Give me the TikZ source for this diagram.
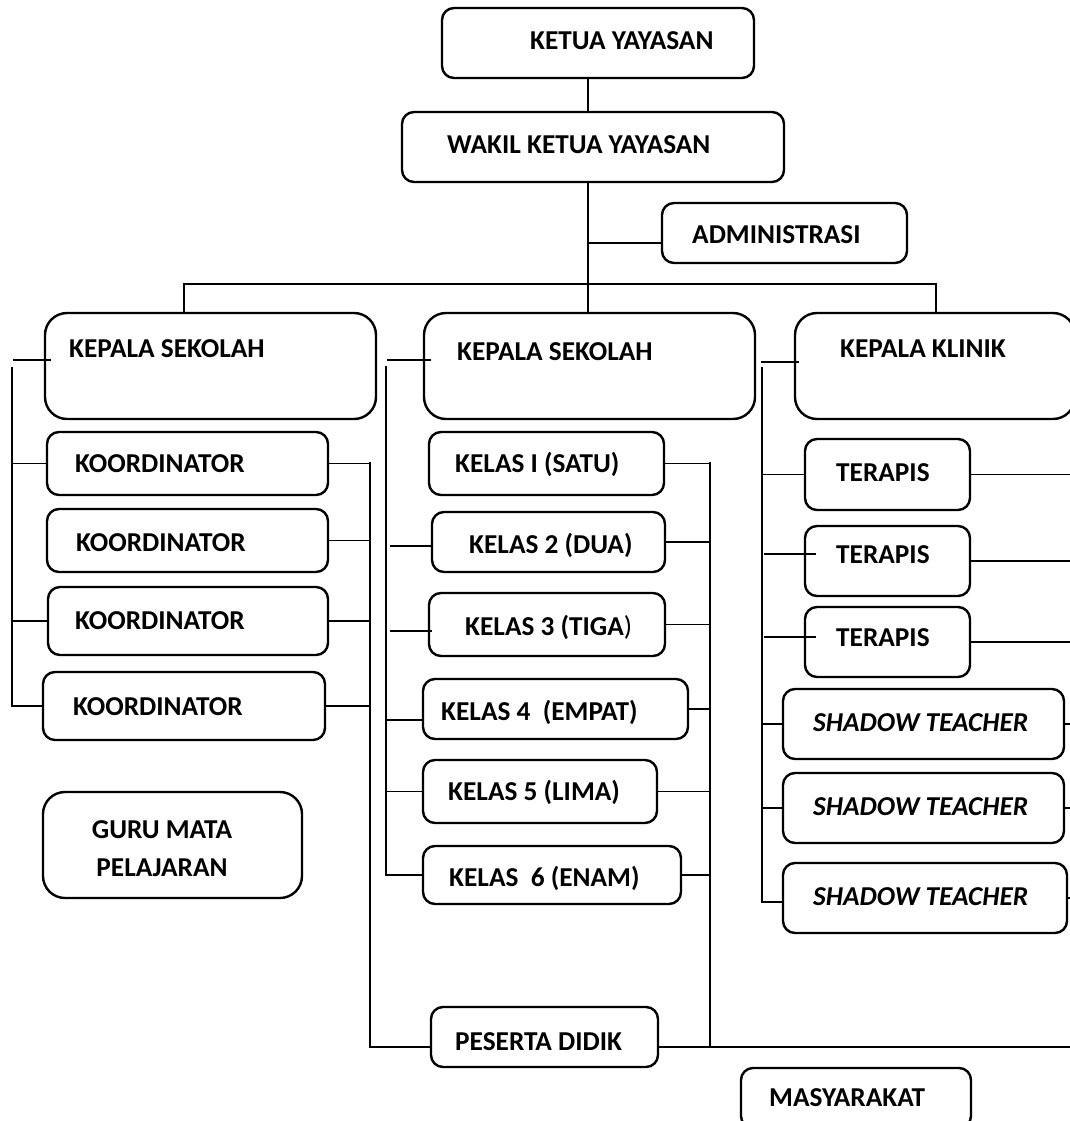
\documentclass[tikz,border=0pt]{standalone}
\usepackage{fontspec}
\setmainfont{Carlito}

\begin{document}
\begin{tikzpicture}[x=1pt,y=-1pt,
    box/.style={draw, line width=2.4pt, rounded corners=12pt, inner sep=0pt},
    bigbox/.style={box, rounded corners=22pt},
    txt/.style={font=\bfseries\fontsize{27.3}{38}\selectfont, inner sep=0pt, anchor=west, text height=17.6pt, text depth=0pt},
    link/.style={line width=1.3pt},
    stub/.style={line width=2.6pt}]
    \useasboundingbox (0,0) rectangle (1070,1121);
    \clip (0,0) rectangle (1070,1121);

    % yayasan
    \node[box, minimum width=312pt, minimum height=70pt] (ketua) at (598,43) {};
    \node[txt] (ketuaT) at (530,41) {KETUA YAYASAN};
    \node[box, minimum width=382pt, minimum height=70pt] (wakil) at (593,147) {};
    \node[txt] (wakilT) at (447,145) {WAKIL KETUA YAYASAN};
    \node[box, minimum width=245pt, minimum height=60pt] (admin) at (784.5,233) {};
    \node[txt] (adminT) at (692,235) {ADMINISTRASI};

    % kepala
    \node[bigbox, minimum width=331pt, minimum height=106pt] (ks1) at (210.5,366) {};
    \node[txt] (ks1T) at (69,349) {KEPALA SEKOLAH};
    \node[bigbox, minimum width=331pt, minimum height=106pt] (ks2) at (589.5,366) {};
    \node[txt] (ks2T) at (457,352) {KEPALA SEKOLAH};
    \node[bigbox, minimum width=280pt, minimum height=106pt] (klinik) at (935,366) {};
    \node[txt] (klinikT) at (840,349) {KEPALA KLINIK};

    % koordinator
    \node[box, minimum width=281pt, minimum height=63pt] (ko1) at (187.5,463.5) {};
    \node[txt] (ko1T) at (75,464) {KOORDINATOR};
    \node[box, minimum width=281pt, minimum height=63pt] (ko2) at (187.5,540.5) {};
    \node[txt] (ko2T) at (76,543) {KOORDINATOR};
    \node[box, minimum width=280pt, minimum height=68pt] (ko3) at (188,621) {};
    \node[txt] (ko3T) at (75,621) {KOORDINATOR};
    \node[box, minimum width=282pt, minimum height=68pt] (ko4) at (184,706) {};
    \node[txt] (ko4T) at (73,707) {KOORDINATOR};
    \node[bigbox, minimum width=259pt, minimum height=106pt] (guru) at (172.5,845) {};
    \node[font=\bfseries\fontsize{27.3}{38}\selectfont, inner sep=0pt, align=center] (guruT) at (162,849) {GURU MATA\\PELAJARAN};

    % kelas
    \node[box, minimum width=235pt, minimum height=63pt] (k1) at (546.5,463.5) {};
    \node[txt] (k1T) at (455,464) {KELAS I (SATU)};
    \node[box, minimum width=233pt, minimum height=60pt] (k2) at (548.5,542) {};
    \node[txt] (k2T) at (469,545) {KELAS 2 (DUA)};
    \node[box, minimum width=236pt, minimum height=63pt] (k3) at (547,624.5) {};
    \node[txt] (k3T) at (465,627) {KELAS 3 (TIGA\textmd{)}};
    \node[box, minimum width=265pt, minimum height=60pt] (k4) at (555.5,709) {};
    \node[txt] (k4T) at (441,712) {KELAS 4~~(EMPAT)};
    \node[box, minimum width=234pt, minimum height=63pt] (k5) at (540,791.5) {};
    \node[txt] (k5T) at (448,792) {KELAS 5 (LIMA)};
    \node[box, minimum width=258pt, minimum height=58pt] (k6) at (552,875) {};
    \node[txt] (k6T) at (449,878) {KELAS~~6 (ENAM)};
    \node[box, minimum width=227pt, minimum height=60pt] (peserta) at (544.5,1037) {};
    \node[txt] (pesertaT) at (455,1042) {PESERTA DIDIK};

    % klinik
    \node[box, minimum width=165pt, minimum height=71pt] (t1) at (887.5,474.5) {};
    \node[txt] (t1T) at (836,473) {TERAPIS};
    \node[box, minimum width=165pt, minimum height=70pt] (t2) at (887.5,561) {};
    \node[txt] (t2T) at (836,555) {TERAPIS};
    \node[box, minimum width=165pt, minimum height=70pt] (t3) at (887.5,642) {};
    \node[txt] (t3T) at (836,638) {TERAPIS};
    \node[box, minimum width=281pt, minimum height=70pt] (s1) at (923.5,724) {};
    \node[txt] (s1T) at (813,723) {\itshape SHADOW TEACHER};
    \node[box, minimum width=281pt, minimum height=70pt] (s2) at (923.5,808) {};
    \node[txt] (s2T) at (813,807) {\itshape SHADOW TEACHER};
    \node[box, minimum width=284pt, minimum height=70pt] (s3) at (925,898) {};
    \node[txt] (s3T) at (813,897) {\itshape SHADOW TEACHER};
    \node[box, minimum width=230pt, minimum height=60pt] (masy) at (856,1098) {};
    \node[txt] (masyT) at (769,1098) {MASYARAKAT};

    % bus lines
    \coordinate (trunk) at (588,284);
    \coordinate (busL) at (184,284);
    \coordinate (busR) at (936,284);
    \coordinate (lbus) at (12,367);
    \coordinate (kbus) at (370,462);
    \coordinate (mbus) at (386,366);
    \coordinate (cbus) at (710,462);
    \coordinate (rbus) at (762,367);
    \coordinate (redge) at (1072,0);
    \coordinate (pend) at (1072,1047);
    \coordinate (lhook) at (13,360);
    \coordinate (mhook) at (387,360);
    \coordinate (rhook) at (761,362);
    \coordinate (k2hook) at (390,546);
    \coordinate (k3hook) at (390,631);
    \coordinate (k4hook) at (386,720);
    \coordinate (t2hook) at (764,554);
    \coordinate (t3hook) at (764,637);

    \draw[link] (ketua.south -| trunk) -- (wakil.north -| trunk);
    \draw[link] (wakil.south -| trunk) -- (ks2.north -| trunk);
    \draw[link] ([yshift=-10pt]admin.west) -| (trunk);
    \draw[link] (ks1.north -| busL) -- (busL) -- (busR) -- (klinik.north -| busR);

    % sekolah kiri
    \draw[stub] (lhook) -- (lhook -| ks1.west) -- ++(7,0);
    \draw[link] (lbus) |- (ko4.west);
    \foreach \n in {ko1,ko3} \draw[link] (lbus |- \n.west) -- (\n.west);
    \foreach \n in {ko1,ko2,ko3,ko4} \draw[link] (\n.east) -- (\n.east -| kbus);
    \draw[link] (kbus) |- ([yshift=-10pt]peserta.west);
    \draw[link] ([yshift=-10pt]peserta.east) -- (pend);

    % sekolah tengah
    \draw[stub] (mhook) -- (mhook -| ks2.west) -- ++(8,0);
    \draw[link] (mbus) |- (k6.west);
    \draw[link] (k2hook) -- (k2hook -| k2.west);
    \draw[link] (k3hook) -- (k3hook -| k3.west) -- ++(4,0);
    \draw[link] (k4hook) -- (k4hook -| k4.west);
    \draw[link] (mbus |- k5.west) -- (k5.west);
    \draw[link] (cbus) -- (cbus |- pend);
    \foreach \n in {k1,k2,k3,k4,k5,k6} \draw[link] (\n.east) -- (\n.east -| cbus);

    % klinik
    \draw[stub] (rhook) -- (rhook -| klinik.west) -- ++(5,0);
    \draw[link] (rbus) |- ([yshift=-4pt]s3.west);
    \draw[link] (rbus |- t1.west) -- (t1.west);
    \draw[stub] (t2hook) -- (t2hook -| t2.west) -- ++(12,0);
    \draw[stub] (t3hook) -- (t3hook -| t3.west) -- ++(12,0);
    \foreach \n in {s1,s2} \draw[link] (rbus |- \n.west) -- (\n.west);
    \foreach \n in {t1,t2,t3,s1,s2,s3} \draw[link] (\n.east) -- (\n.east -| redge);
\end{tikzpicture}
\end{document}
